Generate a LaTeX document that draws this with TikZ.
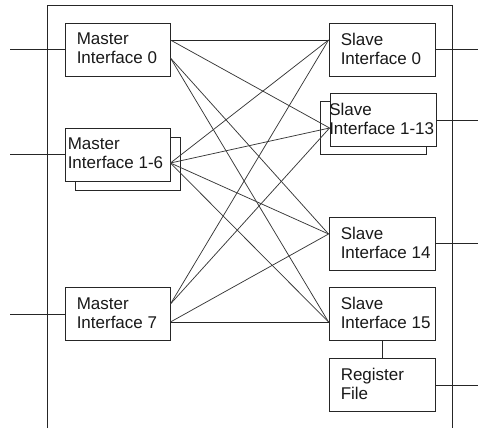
\documentclass[tikz,border=0pt]{standalone}
\usepackage{fontspec}
\setmainfont{Liberation Sans}
\usetikzlibrary{calc}
\begin{document}
\begin{tikzpicture}[x=1pt,y=-1pt,
  box/.style={draw=black!85, line width=0.9pt, fill=white, minimum width=105pt, minimum height=53pt, inner sep=0pt},
  lbl/.style={anchor=west, align=left, inner sep=0pt, text=black!90,
    font=\fontsize{17}{19}\selectfont},
  wire/.style={draw=black!85, line width=0.9pt},
  xbar/.style={draw=black!78, line width=0.75pt}]
\useasboundingbox (0,0) rectangle (478,428);

% frame of the interconnect block
\coordinate (fbl) at (47,428);
\coordinate (ftl) at (47,5);
\coordinate (ftr) at (452,5);
\coordinate (fbr) at (452,428);
\draw[wire] (fbl) -- (ftl) -- (ftr) -- (fbr);

% masters
\node[box] (m0) at (117.5,49.5) {};
\node[lbl] (m0t) at ($(m0.west)+(12,-1)$) {Master\\Interface 0};

\node[box] (m16b) at (127.5,163.5) {};
\node[box] (m16) at (117.5,154.5) {};
\node[lbl] (m16t) at ($(m16.west)+(3,-1)$) {Master\\Interface 1-6};

\node[box] (m7) at (117.5,314) {};
\node[lbl] (m7t) at ($(m7.west)+(12,-1)$) {Master\\Interface 7};

% slaves
\node[box, minimum width=106pt] (s0) at (382,49.5) {};
\node[lbl] (s0t) at ($(s0.west)+(12,-1)$) {Slave\\Interface 0};

\node[box, minimum width=106pt] (s113b) at (373.5,127.5) {};
\node[box, minimum width=106pt] (s113) at (383,120) {};
\node[lbl] (s113t) at ($(s113.west)+(-0.5,-1)$) {Slave\\Interface 1-13};

\node[box, minimum width=106pt] (s14) at (382,243.5) {};
\node[lbl] (s14t) at ($(s14.west)+(12,-1)$) {Slave\\Interface 14};

\node[box, minimum width=106pt] (s15) at (382,314) {};
\node[lbl] (s15t) at ($(s15.west)+(12,-1)$) {Slave\\Interface 15};

\node[box, minimum width=106pt] (rf) at (382,385) {};
\node[lbl] (rft) at ($(rf.west)+(12,-1)$) {Register\\File};

% external ports
\coordinate (pm0) at (10,49.5);
\coordinate (pm16) at (10,154.5);
\coordinate (pm7) at (10,314);
\coordinate (ps0) at (478,49.5);
\coordinate (ps113) at (478,120);
\coordinate (ps14) at (478,243.5);
\coordinate (prf) at (478,385);
\draw[wire] (pm0) -- (m0.west);
\draw[wire] (pm16) -- (m16.west);
\draw[wire] (pm7) -- (m7.west);
\draw[wire] (s0.east) -- (ps0);
\draw[wire] (s113.east) -- (ps113);
\draw[wire] (s14.east) -- (ps14);
\draw[wire] (rf.east) -- (prf);
\draw[wire] (s15.south) -- (rf.north);

% crossbar attachment points
\coordinate (m0a) at ($(m0.east)+(0,-9.5)$);
\coordinate (m0b) at ($(m0.east)+(0,8.5)$);
\coordinate (m16p) at ($(m16.east)+(0,8.5)$);
\coordinate (m7a) at ($(m7.east)+(0,-10)$);
\coordinate (m7b) at ($(m7.east)+(0,8)$);
\coordinate (s0p) at ($(s0.west)+(0,-9.5)$);
\coordinate (s113p) at ($(s113.west)+(0,8)$);
\coordinate (s14p) at ($(s14.west)+(0,-9.5)$);
\coordinate (s15p) at ($(s15.west)+(0,8)$);

% crossbar
\draw[wire] (m0a) -- (s0p);
\draw[xbar] (m0a) -- (s113p);
\draw[xbar] (m0b) -- (s14p);
\draw[xbar] (m0b) -- (s15p);
\draw[xbar] (m16p) -- (s0p);
\draw[xbar] (m16p) -- (s113p);
\draw[xbar] (m16p) -- (s14p);
\draw[xbar] (m16p) -- (s15p);
\draw[xbar] (m7a) -- (s0p);
\draw[xbar] (m7a) -- (s113p);
\draw[xbar] (m7b) -- (s14p);
\draw[wire] (m7b) -- (s15p);
\end{tikzpicture}
\end{document}
